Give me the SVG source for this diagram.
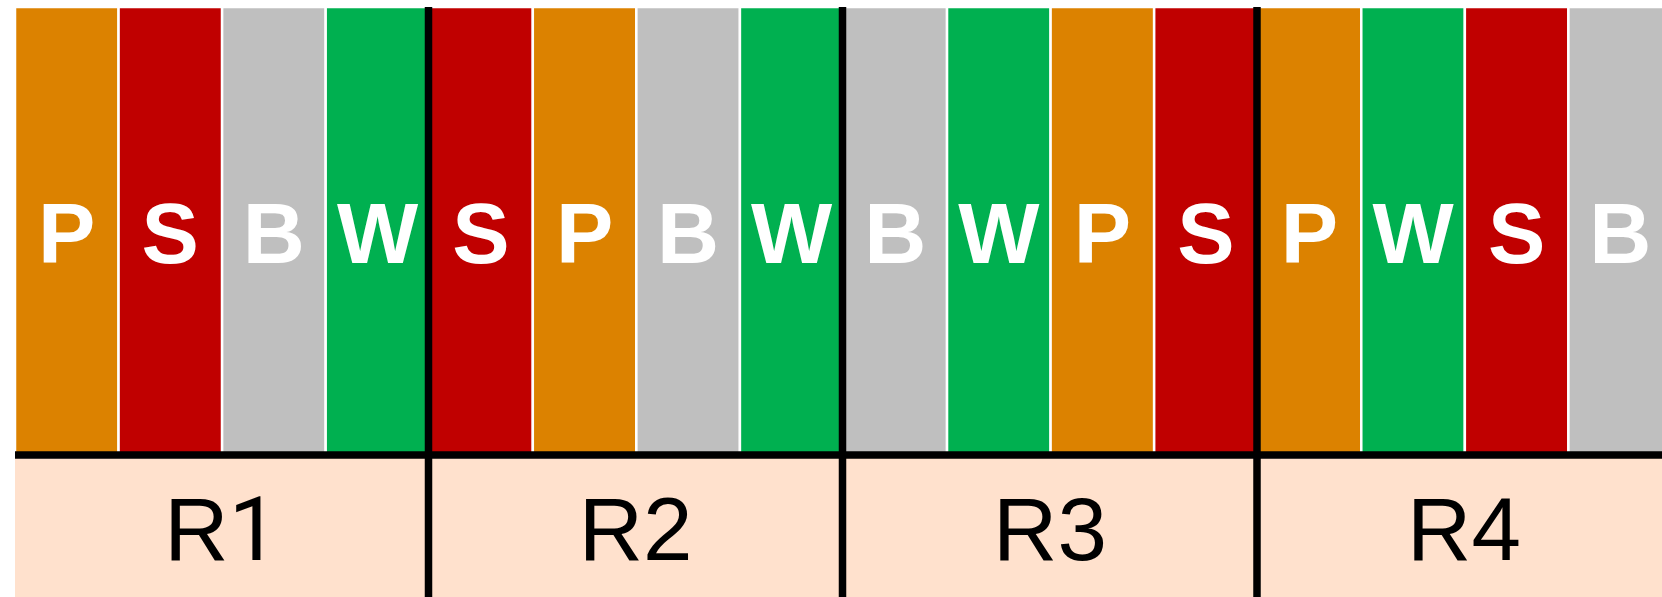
<svg xmlns="http://www.w3.org/2000/svg" width="1662" height="597" viewBox="0 0 1662 597">
<style>
.bar{stroke:#FFFFFF;stroke-width:2.5}
.o{fill:#DC8200}.r{fill:#C00000}.g{fill:#BFBFBF}.w{fill:#00B050}
.lt{font-family:"Liberation Sans",Arial,sans-serif;font-weight:bold;font-size:86px;fill:#FFFFFF;text-anchor:middle}
.rt{font-family:"Liberation Sans",Arial,sans-serif;font-size:89px;fill:#000000;text-anchor:middle}
.one{font-family:Roboto,"Liberation Sans",sans-serif}
.sep{stroke:#000000;stroke-width:7.5}
</style>
<rect x="0" y="0" width="1662" height="597" fill="#FFFFFF"/>
<rect id="bottom" x="15" y="455" width="1647" height="142" fill="#FFE1CD"/>
<g id="group1">
<g id="bar1"><rect class="bar o" x="15" y="7" width="103.56" height="448"/><text class="lt" x="66.8" y="262.5">P</text></g>
<g id="bar2"><rect class="bar r" x="118.56" y="7" width="103.56" height="448"/><text class="lt" x="170.3" y="262.5">S</text></g>
<g id="bar3"><rect class="bar g" x="222.12" y="7" width="103.56" height="448"/><text class="lt" x="273.9" y="262.5">B</text></g>
<g id="bar4"><rect class="bar w" x="325.68" y="7" width="103.56" height="448"/><text class="lt" x="377.5" y="262.5">W</text></g>
</g>
<g id="group2">
<g id="bar5"><rect class="bar r" x="429.24" y="7" width="103.56" height="448"/><text class="lt" x="481" y="262.5">S</text></g>
<g id="bar6"><rect class="bar o" x="532.8" y="7" width="103.56" height="448"/><text class="lt" x="584.6" y="262.5">P</text></g>
<g id="bar7"><rect class="bar g" x="636.36" y="7" width="103.56" height="448"/><text class="lt" x="688.1" y="262.5">B</text></g>
<g id="bar8"><rect class="bar w" x="739.92" y="7" width="103.56" height="448"/><text class="lt" x="791.7" y="262.5">W</text></g>
</g>
<g id="group3">
<g id="bar9"><rect class="bar g" x="843.48" y="7" width="103.56" height="448"/><text class="lt" x="895.3" y="262.5">B</text></g>
<g id="bar10"><rect class="bar w" x="947.04" y="7" width="103.56" height="448"/><text class="lt" x="998.8" y="262.5">W</text></g>
<g id="bar11"><rect class="bar o" x="1050.6" y="7" width="103.56" height="448"/><text class="lt" x="1102.4" y="262.5">P</text></g>
<g id="bar12"><rect class="bar r" x="1154.16" y="7" width="103.56" height="448"/><text class="lt" x="1205.9" y="262.5">S</text></g>
</g>
<g id="group4">
<g id="bar13"><rect class="bar o" x="1257.72" y="7" width="103.56" height="448"/><text class="lt" x="1309.5" y="262.5">P</text></g>
<g id="bar14"><rect class="bar w" x="1361.28" y="7" width="103.56" height="448"/><text class="lt" x="1413.1" y="262.5">W</text></g>
<g id="bar15"><rect class="bar r" x="1464.84" y="7" width="103.56" height="448"/><text class="lt" x="1516.6" y="262.5">S</text></g>
<g id="bar16"><rect class="bar g" x="1568.4" y="7" width="103.56" height="448"/><text class="lt" x="1620.2" y="262.5">B</text></g>
</g>
<g id="labels">
<text class="rt" x="221.5" y="560">R<tspan class="one">1</tspan></text>
<text class="rt" x="635.7" y="560">R2</text>
<text class="rt" x="1050" y="560">R3</text>
<text class="rt" x="1464" y="560">R4</text>
</g>
<g id="connectors">
<line class="sep" x1="15" y1="455" x2="1662" y2="455"/>
<line class="sep" x1="428.5" y1="7" x2="428.5" y2="597"/>
<line class="sep" x1="842.5" y1="7" x2="842.5" y2="597"/>
<line class="sep" x1="1257" y1="7" x2="1257" y2="597"/>
</g>
</svg>
